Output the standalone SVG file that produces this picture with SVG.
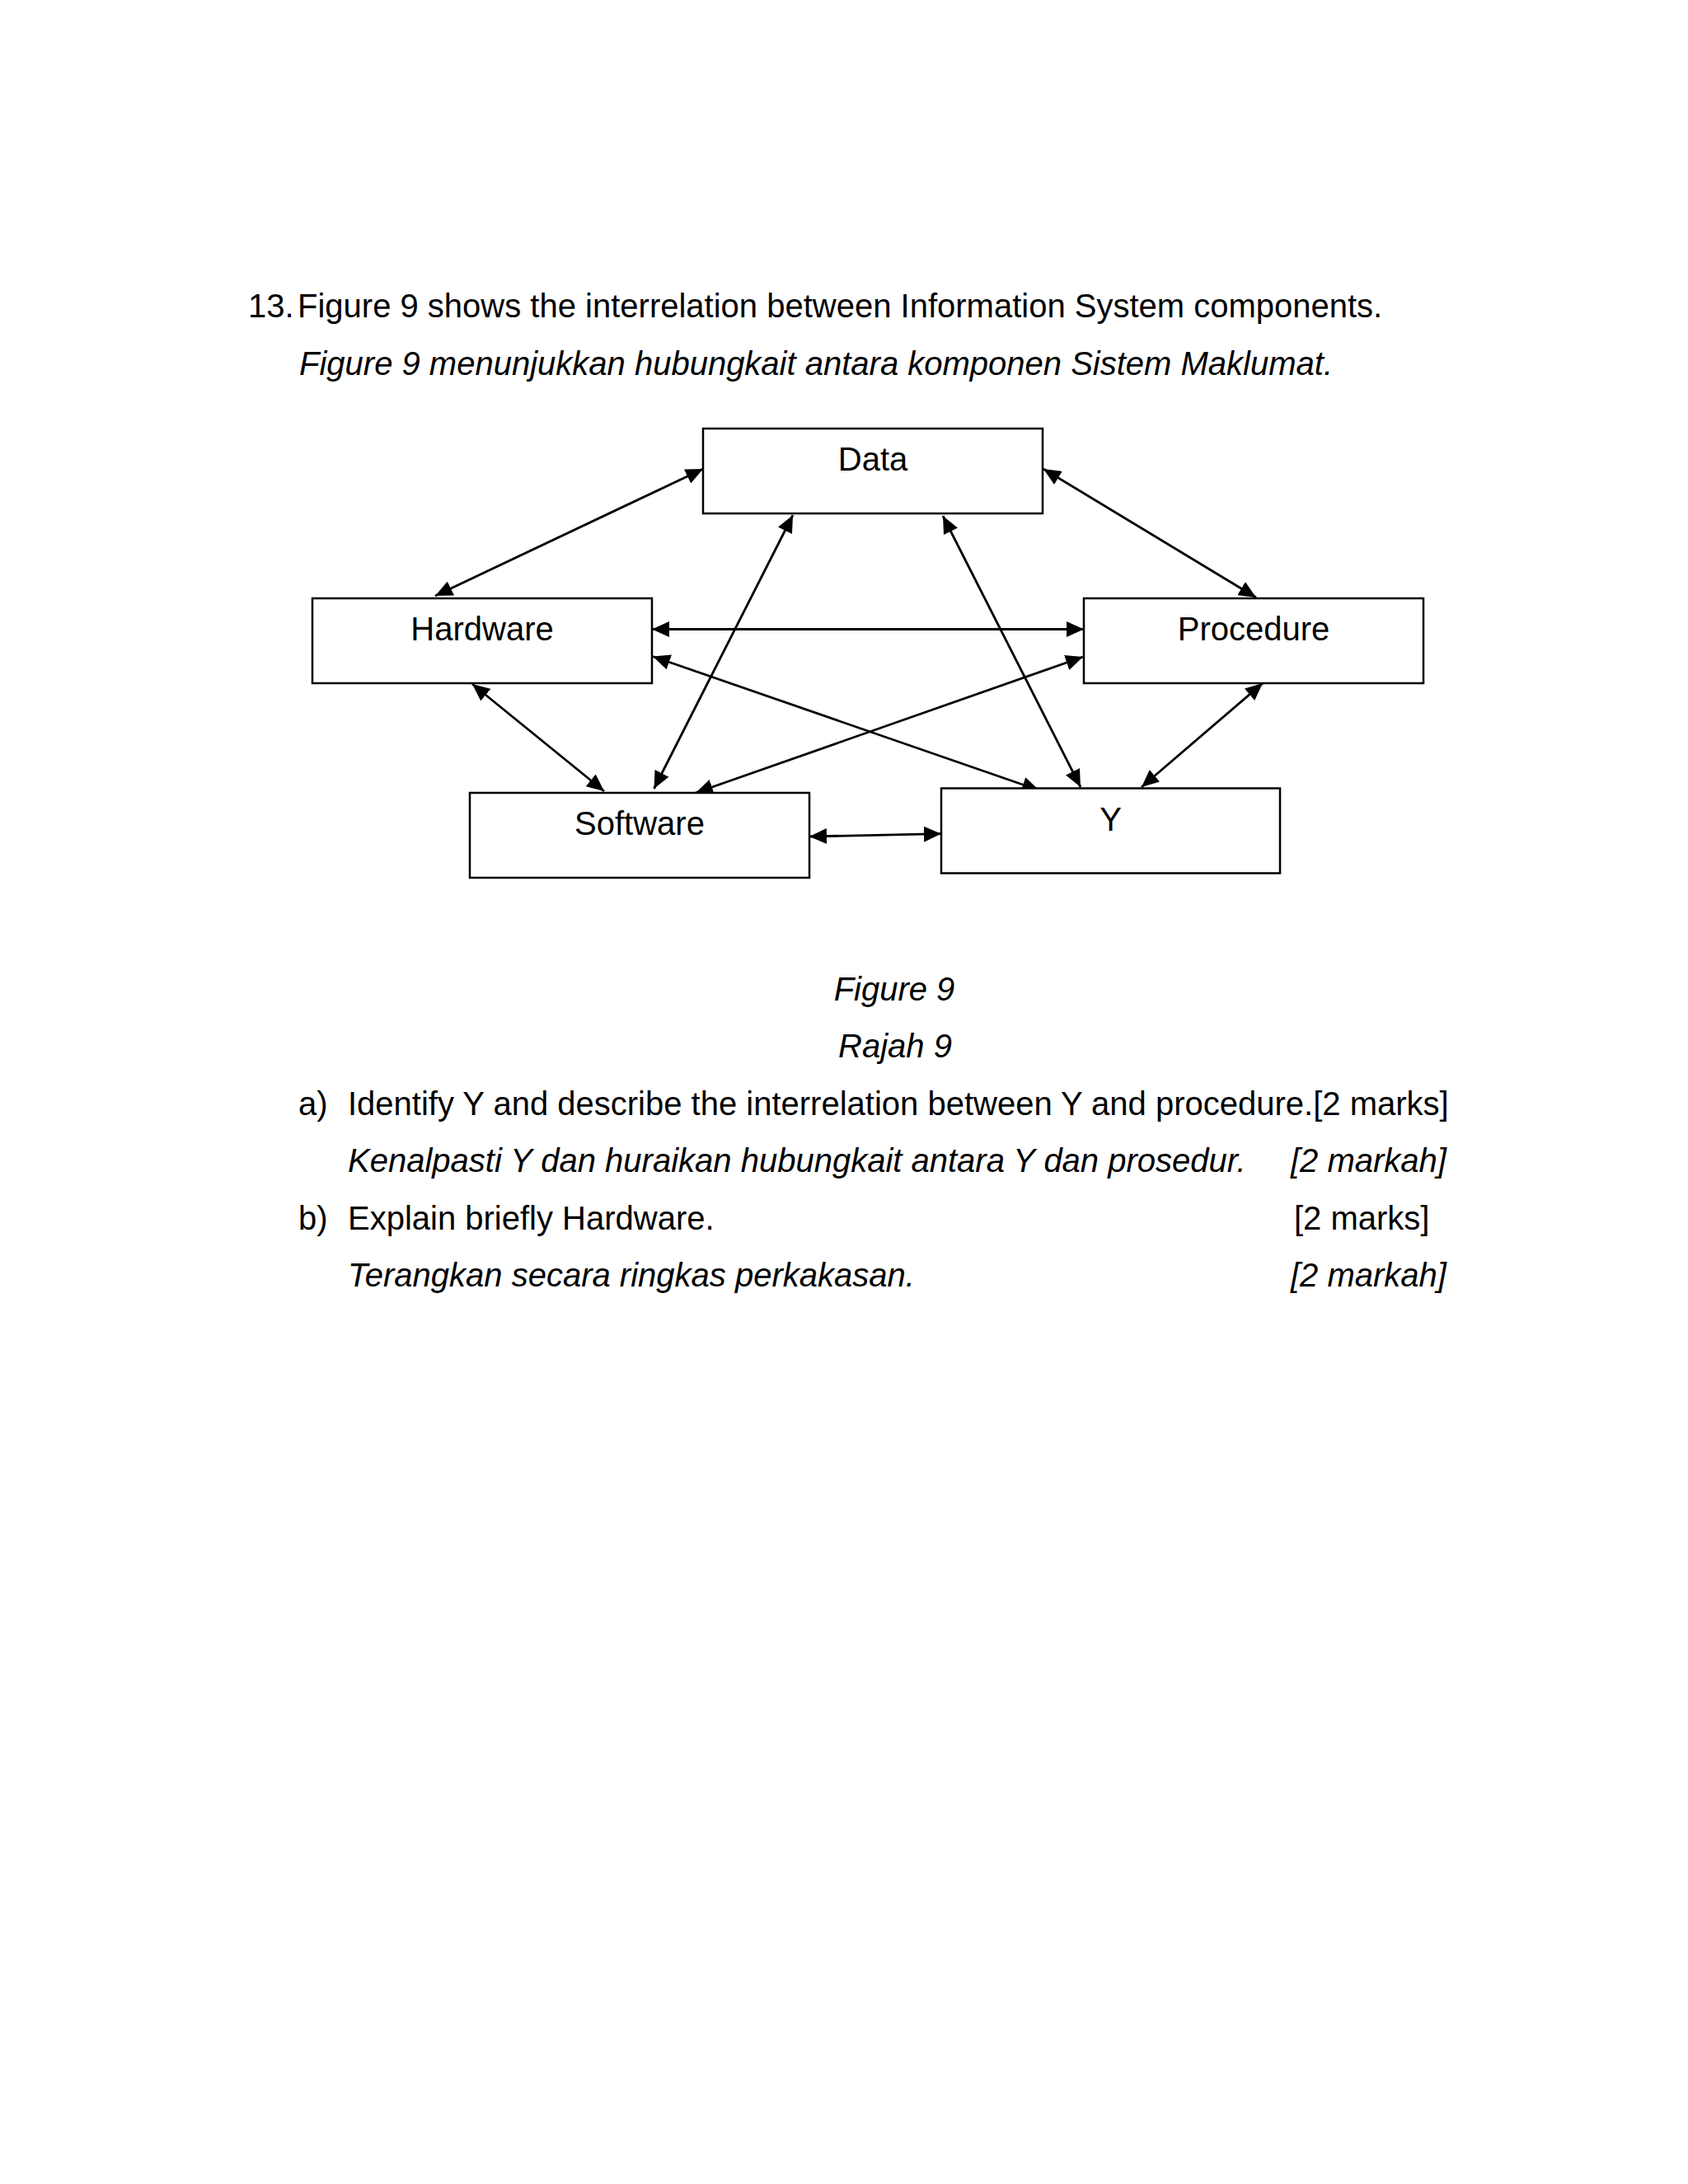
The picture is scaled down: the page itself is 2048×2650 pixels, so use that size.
<svg xmlns="http://www.w3.org/2000/svg" width="2048" height="2650" viewBox="0 0 2048 2650">
<style>
text{font-family:"Liberation Sans",Arial,sans-serif;font-size:40px;fill:#000}
.i{font-style:italic}
.m{text-anchor:middle}
.box{fill:#fff;stroke:#000;stroke-width:2.5}
.c{stroke:#000;stroke-width:2.8;fill:none;marker-start:url(#ah);marker-end:url(#ah)}
</style>
<defs>
<marker id="ah" markerUnits="userSpaceOnUse" markerWidth="21" markerHeight="19" viewBox="0 0 21 19" refX="21" refY="9.5" orient="auto-start-reverse">
<path d="M0,0 L21,9.5 L0,19 z" fill="#000"/>
</marker>
</defs>
<rect width="2048" height="2650" fill="#fff"/>
<g id="question">
<text x="301" y="385">13.</text>
<text x="361" y="385">Figure 9 shows the interrelation between Information System components.</text>
<text x="363" y="455" class="i">Figure 9 menunjukkan hubungkait antara komponen Sistem Maklumat.</text>
</g>
<g id="connectors">
<line class="c" x1="528" y1="723" x2="853" y2="569"/>
<line class="c" x1="1266" y1="569" x2="1524" y2="725"/>
<line class="c" x1="791" y1="763.5" x2="1315" y2="763.5"/>
<line class="c" x1="792" y1="796.5" x2="1261" y2="959"/>
<line class="c" x1="1314" y1="797" x2="844" y2="962"/>
<line class="c" x1="962" y1="625" x2="793.5" y2="957"/>
<line class="c" x1="1144" y1="626" x2="1311" y2="955"/>
<line class="c" x1="573" y1="830" x2="733" y2="960"/>
<line class="c" x1="1532" y1="829" x2="1385" y2="955"/>
<line class="c" x1="982" y1="1015" x2="1142" y2="1011.7"/>
</g>
<g id="node-data">
<rect class="box" x="853" y="520" width="412" height="103"/>
<text x="1059" y="571" class="m">Data</text>
</g>
<g id="node-hardware">
<rect class="box" x="379" y="726" width="412" height="103"/>
<text x="585" y="777" class="m">Hardware</text>
</g>
<g id="node-procedure">
<rect class="box" x="1315" y="726" width="412" height="103"/>
<text x="1521" y="777" class="m">Procedure</text>
</g>
<g id="node-software">
<rect class="box" x="570" y="962" width="412" height="103"/>
<text x="776" y="1013" class="m">Software</text>
</g>
<g id="node-y">
<rect class="box" x="1142" y="956.5" width="411" height="103"/>
<text x="1347.5" y="1008" class="m">Y</text>
</g>
<g id="caption">
<text x="1085" y="1214" class="i m">Figure 9</text>
<text x="1086" y="1283" class="i m">Rajah 9</text>
</g>
<g id="parts">
<text x="362" y="1353">a)</text>
<text x="422" y="1353">Identify Y and describe the interrelation between Y and procedure.[2 marks]</text>
<text x="422" y="1422" class="i">Kenalpasti Y dan huraikan hubungkait antara Y dan prosedur.</text>
<text x="1566" y="1422" class="i">[2 markah]</text>
<text x="362" y="1492">b)</text>
<text x="422" y="1492">Explain briefly Hardware.</text>
<text x="1570" y="1492">[2 marks]</text>
<text x="422" y="1561" class="i">Terangkan secara ringkas perkakasan.</text>
<text x="1566" y="1561" class="i">[2 markah]</text>
</g>
</svg>
